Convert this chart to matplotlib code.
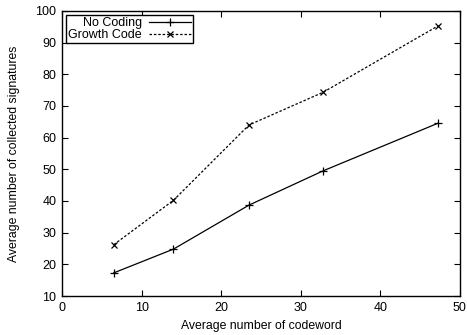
import matplotlib
matplotlib.use("Agg")
import matplotlib.pyplot as plt

plt.rcParams['font.family'] = ['Liberation Sans', 'DejaVu Sans']

# data
codeword = [6.5, 14.0, 23.5, 32.8, 47.2]
no_coding = [17.3, 24.8, 38.7, 49.5, 64.5]
growth_code = [26.2, 40.2, 64.0, 74.3, 95.2]

fig = plt.figure(figsize=(4.67, 3.35), dpi=100)
ax = fig.add_axes([0.1328, 0.1164, 0.852, 0.851])

ax.plot(codeword, no_coding, '-', color='black', linewidth=0.9,
        marker='+', markersize=6, markeredgewidth=0.9, label='No Coding')
ax.plot(codeword, growth_code, color='black', linewidth=0.9, linestyle=(0, (2, 1.5)),
        marker='x', markersize=5, markeredgewidth=0.9, label='Growth Code')

ax.set_xlim(0, 50)
ax.set_ylim(10, 100)
ax.set_xticks(range(0, 51, 10))
ax.set_yticks(range(10, 101, 10))
ax.tick_params(direction='in', top=True, right=True, labelsize=9, length=4, width=0.8, pad=4)
for s in ax.spines.values():
    s.set_linewidth(1.0)

ax.set_xlabel('Average number of codeword', fontsize=8.8)
ax.set_ylabel('Average number of collected signatures', fontsize=8.8)
ax.xaxis.set_label_coords(0.5, -0.083)
ax.yaxis.set_label_coords(-0.105, 0.5)

leg = ax.legend(loc='upper left', markerfirst=False, fontsize=9, frameon=True,
                fancybox=False, edgecolor='black', framealpha=1,
                borderpad=0.15, labelspacing=0.0, handlelength=3.3, handletextpad=0.6,
                borderaxespad=0.35)
leg.get_frame().set_linewidth(1.0)

fig.savefig('out.png', dpi=100)
